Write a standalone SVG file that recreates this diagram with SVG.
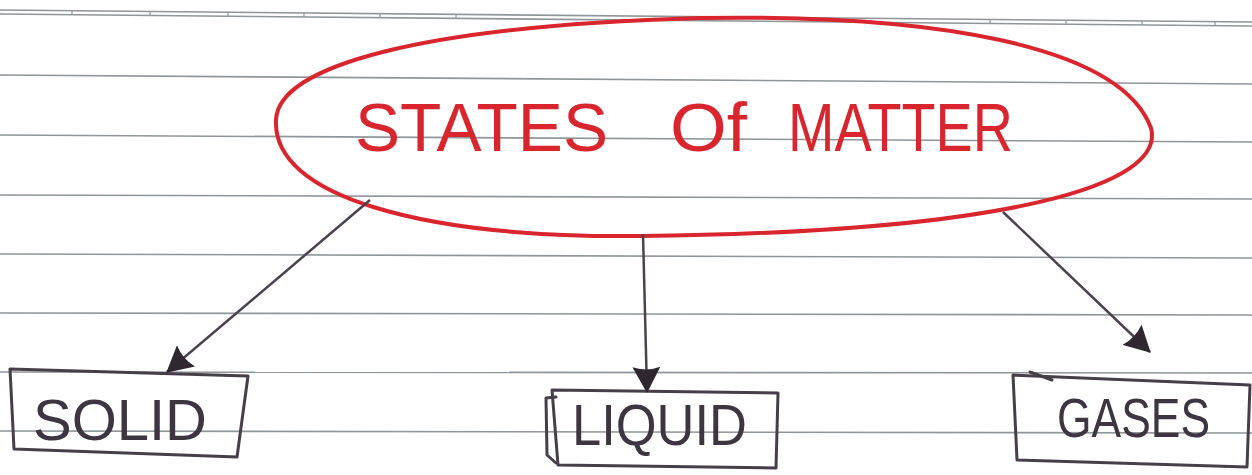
<svg xmlns="http://www.w3.org/2000/svg" width="1252" height="475" viewBox="0 0 1252 475">
  <defs>
    <style>
      .rule { stroke: #8f9598; stroke-width: 1.6; fill: none; }
      .tick { stroke: #8f9598; stroke-width: 1.2; }
      .oval { fill: none; stroke: #d9262e; stroke-width: 4; stroke-linejoin: round; }
      .title { font-family: "Liberation Sans", Arial, sans-serif; font-size: 68px; fill: #d9262e; }
      .box { fill: none; stroke: #463e48; stroke-width: 3; stroke-linejoin: round; stroke-linecap: round; }
      .label { font-family: "Liberation Sans", Arial, sans-serif; font-size: 58px; fill: #3d3540; }
      .edge { stroke: #4a434e; stroke-width: 2.5; fill: none; }
    </style>
    <marker id="arrow" markerUnits="userSpaceOnUse" viewBox="0 0 26 28" refX="25" refY="14" markerWidth="26" markerHeight="28" orient="auto">
      <path d="M0,0 L26,14 L0,28 Q5,14 0,0 Z" fill="#2f282f"/>
    </marker>
  </defs>

  <rect width="1252" height="475" fill="#ffffff"/>

  <g id="paper">
    <line class="rule" x1="0" y1="10" x2="1252" y2="22"/>
    <line class="rule" x1="0" y1="14" x2="1252" y2="26"/>
    <g class="tick">
      <line x1="72" y1="10" x2="72" y2="15"/>
      <line x1="150" y1="11" x2="150" y2="16"/>
      <line x1="228" y1="12" x2="228" y2="17"/>
      <line x1="304" y1="13" x2="304" y2="17"/>
      <line x1="380" y1="14" x2="380" y2="18"/>
      <line x1="456" y1="14" x2="456" y2="19"/>
      <line x1="990" y1="19" x2="990" y2="24"/>
      <line x1="1066" y1="20" x2="1066" y2="25"/>
      <line x1="1142" y1="21" x2="1142" y2="25"/>
      <line x1="1215" y1="21" x2="1215" y2="26"/>
    </g>
    <line class="rule" x1="0" y1="75" x2="1252" y2="84"/>
    <line class="rule" x1="0" y1="135" x2="1252" y2="142"/>
    <line class="rule" x1="0" y1="195" x2="1252" y2="199"/>
    <line class="rule" x1="0" y1="254" x2="1252" y2="258"/>
    <line class="rule" x1="0" y1="313" x2="1252" y2="315"/>
    <line class="rule" x1="0" y1="372" x2="1252" y2="373"/>
    <line class="rule" x1="0" y1="431" x2="1252" y2="433"/>
  </g>

  <g id="states-of-matter">
    <path class="oval" d="M276,120 C278,66 420,26 700,18 C930,14 1120,44 1151,128 C1166,185 1010,232 640,236 C420,238 272,196 276,120 Z"/>
    <text class="title" y="151">
      <tspan x="355" textLength="253" lengthAdjust="spacingAndGlyphs">STATES</tspan>
      <tspan x="670" textLength="77" lengthAdjust="spacingAndGlyphs">Of</tspan>
      <tspan x="788" textLength="225" lengthAdjust="spacingAndGlyphs">MATTER</tspan>
    </text>
  </g>

  <g id="solid">
    <path class="box" d="M10,369 L248,376 L237,457 L14,449 Z"/>
    <text class="label" x="33" y="440" textLength="174" lengthAdjust="spacingAndGlyphs">SOLID</text>
  </g>

  <g id="liquid">
    <path class="box" d="M552,390 L778,393 L776,468 L558,465 Z"/>
    <path class="box" d="M556,397 L546,398 L547,455 L556,463"/>
    <text class="label" x="572" y="445" textLength="175" lengthAdjust="spacingAndGlyphs">LIQUID</text>
  </g>

  <g id="gases">
    <path class="box" d="M1013,375 L1250,385 L1247,467 L1017,460 Z"/>
    <path class="box" d="M1030,372 L1052,380"/>
    <text class="label" x="1057" y="437" style="font-size:56px" textLength="153" lengthAdjust="spacingAndGlyphs">GASES</text>
  </g>

  <g id="connectors">
    <line class="edge" x1="370" y1="200" x2="167" y2="372" marker-end="url(#arrow)"/>
    <line class="edge" x1="643" y1="234" x2="647" y2="392" marker-end="url(#arrow)"/>
    <line class="edge" x1="1003" y1="212" x2="1150" y2="352" marker-end="url(#arrow)"/>
  </g>
</svg>
